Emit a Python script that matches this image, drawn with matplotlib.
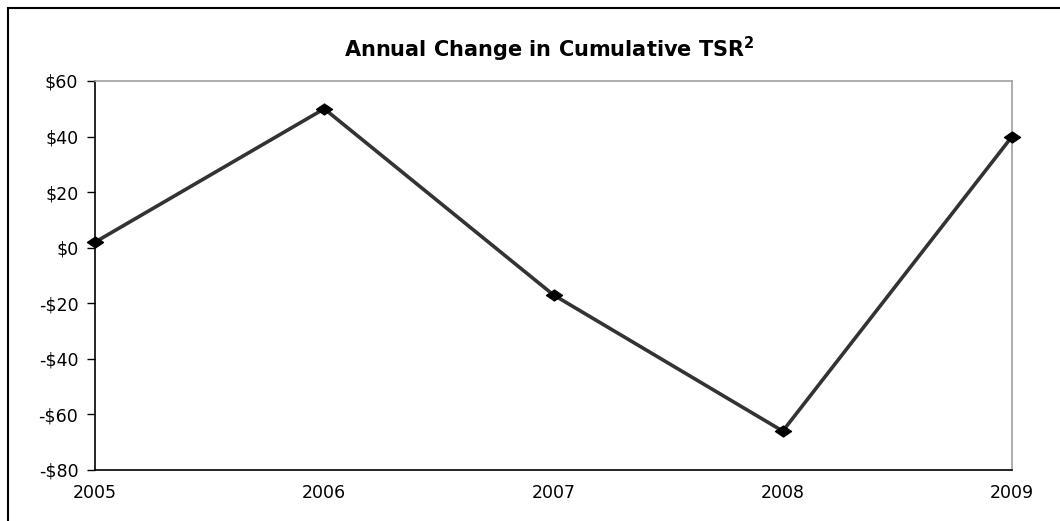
import matplotlib
matplotlib.use("Agg")
import matplotlib.pyplot as plt
from matplotlib.patches import Rectangle
from matplotlib.path import Path

years = ["2005", "2006", "2007", "2008", "2009"]
tsr_change = [2, 50, -17, -66, 40]
y_ticks = [-80, -60, -40, -20, 0, 20, 40, 60]
y_labels = ["-$80", "-$60", "-$40", "-$20", "$0", "$20", "$40", "$60"]

plt.rcParams["font.family"] = ["DejaVu Sans"]

W, H = 1060, 521
fig = plt.figure(figsize=(W / 100, H / 100), dpi=100)

# outer frame (only top and left edges fall inside the canvas)
fig.patches.append(Rectangle((8 / W, -0.1), 1.2, 1 - 8 / H + 0.1, transform=fig.transFigure,
                             fill=False, edgecolor="black", linewidth=1.5))

left, right, top, bottom = 95, 1012, 81, 470
ax = fig.add_axes([left / W, 1 - bottom / H, (right - left) / W, (bottom - top) / H])

# a diamond that is wider than it is tall
diamond = Path([(-1, 0), (0, 0.68), (1, 0), (0, -0.68), (-1, 0)],
               [Path.MOVETO, Path.LINETO, Path.LINETO, Path.LINETO, Path.CLOSEPOLY])

x = list(range(len(years)))
ax.plot(x, tsr_change, color="#333333", linewidth=2.6, marker=diamond, markersize=11.5,
        markerfacecolor="black", markeredgecolor="black", zorder=3, clip_on=False)

ax.set_xlim(0, len(years) - 1)
ax.set_ylim(-80, 60)
ax.set_yticks(y_ticks)
ax.set_yticklabels(y_labels, fontsize=12.5)
ax.set_xticks(x)
ax.set_xticklabels(years, fontsize=12.5)
ax.tick_params(axis="x", length=0, pad=10)
ax.tick_params(axis="y", direction="out", length=6, width=1, pad=6)

for s in ("top", "right"):
    ax.spines[s].set_color("#a0a0a0")
    ax.spines[s].set_linewidth(1.2)
for s in ("left", "bottom"):
    ax.spines[s].set_color("black")
    ax.spines[s].set_linewidth(1.2)

fig.text(549 / W, 1 - 49 / H, r"Annual Change in Cumulative TSR$^{\mathbf{2}}$",
         ha="center", va="center", fontsize=15, fontweight="bold")

fig.savefig("out.png", dpi=100)
